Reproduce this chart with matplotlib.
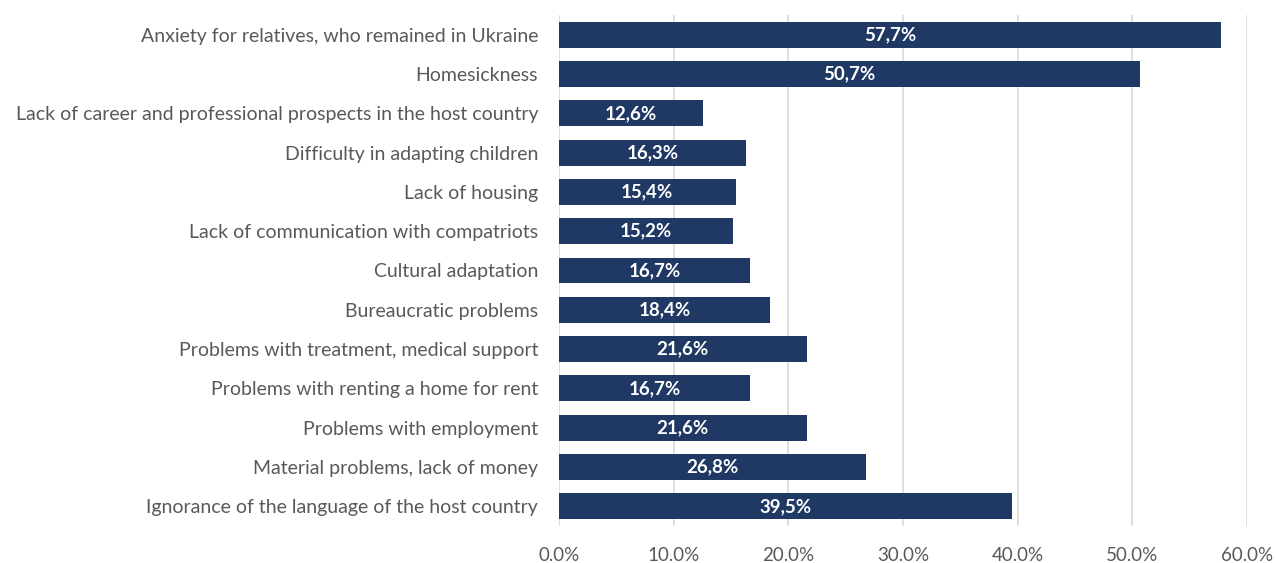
import matplotlib.pyplot as plt
from matplotlib.ticker import FuncFormatter

categories = [
    "Anxiety for relatives, who remained in Ukraine",
    "Homesickness",
    "Lack of career and professional prospects in the host country",
    "Difficulty in adapting children",
    "Lack of housing",
    "Lack of communication with compatriots",
    "Cultural adaptation",
    "Bureaucratic problems",
    "Problems with treatment, medical support",
    "Problems with renting a home for rent",
    "Problems with employment",
    "Material problems, lack of money",
    "Ignorance of the language of the host country",
]
values = [57.7, 50.7, 12.6, 16.3, 15.4, 15.2, 16.7, 18.4, 21.6, 16.7, 21.6, 26.8, 39.5]

plt.rcParams['font.family'] = ['Lato', 'DejaVu Sans']

fig = plt.figure(figsize=(12.76, 5.63), dpi=100)
ax = fig.add_axes([559 / 1276, 1 - 526 / 563, 688 / 1276, 511 / 563])

pos = list(range(len(categories)))[::-1]
ax.barh(pos, values, height=0.66, color='#203864', zorder=3)
for p, v in zip(pos, values):
    ax.text(v / 2, p, f"{v:.1f}%".replace('.', ','), ha='center', va='center',
            color='white', fontsize=13.5, fontweight='bold', zorder=4)

ax.set_yticks(pos)
ax.set_yticklabels(categories, fontsize=14, color='#595959')
ax.set_ylim(-0.5, len(categories) - 0.5)
ax.set_xlim(0, 60)
ax.set_xticks(range(0, 61, 10))
ax.xaxis.set_major_formatter(FuncFormatter(lambda x, _: f"{x:.1f}%"))
ax.tick_params(axis='x', labelsize=13.5, colors='#595959', length=0, pad=15)
ax.tick_params(axis='y', length=0, pad=15)
ax.grid(axis='x', color='#d9d9d9', linewidth=1.2, zorder=0)
for s in ax.spines.values():
    s.set_visible(False)

fig.savefig('out.png', dpi=100)
